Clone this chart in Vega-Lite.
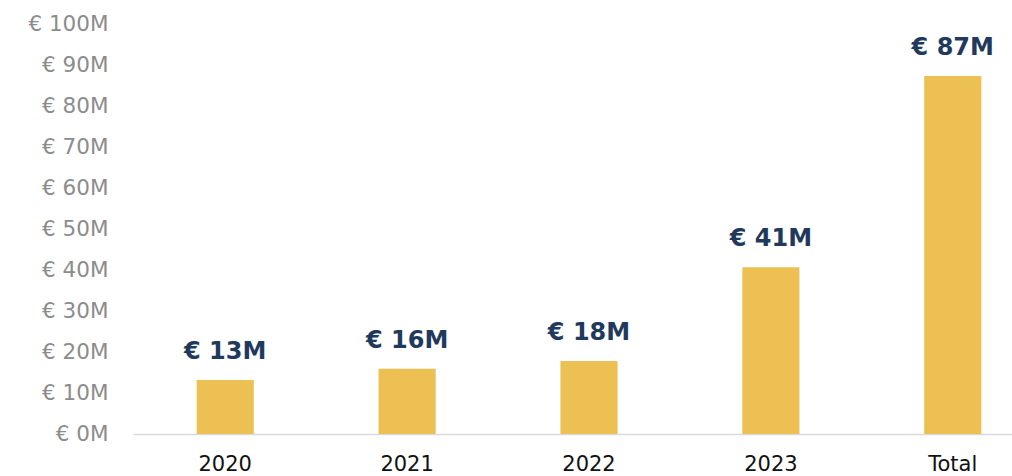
{
  "$schema": "https://vega.github.io/schema/vega-lite/v6.json",
  "autosize": "none",
  "padding": {"left": 133, "top": 24, "right": 0, "bottom": 42},
  "width": 912,
  "height": 410,
  "config": {"view": {"stroke": null}, "font": "DejaVu Sans"},
  "data": {"values": [
    {"year": "2020", "value": 13.2, "label": "€ 13M"},
    {"year": "2021", "value": 15.9, "label": "€ 16M"},
    {"year": "2022", "value": 17.8, "label": "€ 18M"},
    {"year": "2023", "value": 40.7, "label": "€ 41M"},
    {"year": "Total", "value": 87.3, "label": "€ 87M"}
  ]},
  "encoding": {
    "x": {"field": "year", "type": "nominal", "sort": null,
      "scale": {"paddingInner": 0.686, "paddingOuter": 0.35},
      "axis": {"title": null, "labelAngle": 0, "ticks": false, "domainColor": "#d9d9d9", "domainWidth": 1.5,
        "labelFontSize": 21, "labelColor": "#111111", "labelPadding": 19, "labelFont": "DejaVu Sans"}},
    "y": {"field": "value", "type": "quantitative",
      "scale": {"domain": [0, 100]},
      "axis": {"title": null, "values": [0,10,20,30,40,50,60,70,80,90,100], "grid": false, "domain": false, "ticks": false,
        "labelExpr": "'€ ' + datum.value + 'M'", "labelFontSize": 21.5, "labelColor": "#8c8c8c", "labelPadding": 25, "labelFont": "DejaVu Sans"}}
  },
  "layer": [
    {"mark": {"type": "bar", "color": "#ECC052"}},
    {"mark": {"type": "text", "dy": -28, "fontSize": 24, "fontWeight": "bold", "color": "#1f3a5c", "font": "DejaVu Sans"},
      "encoding": {"text": {"field": "label"}}}
  ]
}
